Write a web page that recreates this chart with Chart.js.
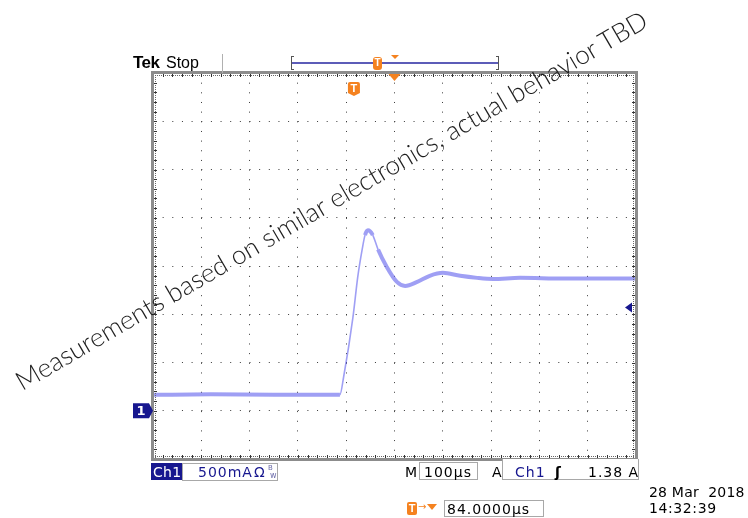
<!DOCTYPE html>
<html>
<head>
<meta charset="utf-8">
<script src="https://cdn.jsdelivr.net/npm/chart.js@4.4.1/dist/chart.umd.min.js"></script>
<style>
  body { margin: 0; background: #fff; }
  #wrap { position: relative; width: 748px; height: 518px; overflow: hidden; }
  #scope { position: absolute; left: 0; top: 0; }
  .t { position: absolute; white-space: nowrap; line-height: 1; font-family: "DejaVu Sans", sans-serif; font-size: 14px; letter-spacing: 1px; color: #000; }
  .box { position: absolute; border: 1px solid #a8a8a8; box-sizing: border-box; background: #fff; }
  .blue { color: #17178f; }
  .orange { background: #f5821f; color: #fff; border-radius: 2px; font-family: "Liberation Sans", sans-serif; font-weight: bold; text-align: center; line-height: 1; position: absolute; }
  #watermark { position: absolute; white-space: nowrap; font-family: "Lato", "Noto Sans", sans-serif; font-weight: 300; color: #1e1e1e; line-height: 1; transform-origin: 50% 50%; }
</style>
</head>
<body>
<div id="wrap">
  <canvas id="scope" width="748" height="518"></canvas>

  <!-- header -->
  <div class="t" style="left:133px; top:53.5px; font-family:'Liberation Sans',sans-serif; font-weight:bold; font-size:17px; letter-spacing:-0.5px;">Tek</div>
  <div class="t" style="left:166px; top:54.5px; font-family:'Liberation Sans',sans-serif; font-size:16px; letter-spacing:0;">Stop</div>
  <div style="position:absolute; left:222px; top:54px; width:1px; height:19px; background:#b0b0b0;"></div>
  <div style="position:absolute; left:291px; top:56px; width:3px; height:14px; border:1px solid #555; border-right:none; box-sizing:border-box;"></div>
  <div style="position:absolute; left:496px; top:56px; width:3px; height:14px; border:1px solid #555; border-left:none; box-sizing:border-box;"></div>
  <div style="position:absolute; left:292px; top:62px; width:206px; height:2px; background:#5c5cb8;"></div>
  <div class="orange" style="left:373px; top:57px; width:9px; height:13px; font-size:10px; padding-top:1px; box-sizing:border-box; border-radius:3px;">T</div>
  <div style="position:absolute; left:391px; top:55px; width:0; height:0; border-left:4px solid transparent; border-right:4px solid transparent; border-top:4px solid #f5821f;"></div>

  <!-- bottom status line -->
  <div style="position:absolute; left:151px; top:463px; width:31px; height:17px; background:#17178f;"></div>
  <div class="t" style="left:153px; top:465px; color:#fff; letter-spacing:0.3px;">Ch1</div>
  <div class="box" style="left:182px; top:463px; width:96px; height:18px;"></div>
  <div class="t blue" style="left:198px; top:465px;">500mA</div>
  <div class="t blue" style="left:254px; top:465px; letter-spacing:0;">Ω</div>
  <div class="t" style="left:268px; top:465px; font-size:7px; color:#6a6aa8; letter-spacing:0;">B</div>
  <div class="t" style="left:270px; top:472px; font-size:8px; color:#6a6aa8; letter-spacing:0;">w</div>

  <div class="t" style="left:405px; top:465px; letter-spacing:0;">M</div>
  <div class="box" style="left:419px; top:462px; width:59px; height:18px;"></div>
  <div class="t" style="left:424px; top:465px;">100µs</div>
  <div class="t" style="left:492px; top:465px; letter-spacing:0;">A</div>
  <div class="box" style="left:502px; top:459px; width:137px; height:21px; border-top:none;"></div>
  <div class="t blue" style="left:515px; top:465px;">Ch1</div>
  <div class="t" style="left:555px; top:465px; font-weight:bold; letter-spacing:0;">ʃ</div>
  <div class="t" style="left:588px; top:465px;">1.38 A</div>

  <div class="orange" style="left:407px; top:502px; width:10px; height:13px; font-size:11px; padding-top:1px; box-sizing:border-box;">T</div>
  <div class="t" style="left:418px; top:502px; font-size:10px; color:#f5821f; letter-spacing:0;">→</div>
  <div style="position:absolute; left:427px; top:504px; width:0; height:0; border-left:5px solid transparent; border-right:5px solid transparent; border-top:6px solid #f5821f;"></div>
  <div class="box" style="left:444px; top:500px; width:100px; height:17px;"></div>
  <div class="t" style="left:447px; top:502px;">84.0000µs</div>

  <div class="t" style="left:649px; top:485px; letter-spacing:0.2px;">28 Mar&nbsp; 2018</div>
  <div class="t" style="left:649px; top:501px; letter-spacing:0.6px;">14:32:39</div>

  <div id="watermark">Measurements based on similar electronics, actual behavior TBD</div>
</div>

<script>
// Ch1 current trace (time in µs across the 10 divisions, current in A)
const timeUs   = [0, 120, 250, 387, 395, 414, 424, 433, 439, 445, 455, 466, 484, 505, 522, 547, 573, 600, 636, 671, 704, 760, 850, 1000];
const currentA = [0.165, 0.17, 0.165, 0.166, 0.36, 0.97, 1.39, 1.67, 1.82, 1.87, 1.82, 1.67, 1.49, 1.335, 1.294, 1.335, 1.398, 1.429, 1.398, 1.377, 1.366, 1.377, 1.37, 1.37];

// screen: 10 divisions of 100µs, 8 divisions of 500mA
const xMin = 0, xMax = 1000, xStep = 100;
const yMin = -0.5, yMax = 3.5, yStep = 0.5;
const triggerTimeUs = 500;          // orange triangle at screen centre
const triggerMarkUs = 416;          // "T" marker (84µs before centre)
const triggerLevelA = 1.07;         // blue level arrow on the right edge
const groundA = 0;                  // Ch1 ground marker

const ORANGE = '#f5821f';
const NAVY = '#17178f';

function isSteep(c) {
    return Math.abs(c.p1.y - c.p0.y) > 2 * Math.abs(c.p1.x - c.p0.x);
}

function tMarker(ctx, cx, top, w, h) {
    ctx.fillStyle = ORANGE;
    ctx.beginPath();
    ctx.moveTo(cx - w / 2 + 2, top);
    ctx.lineTo(cx + w / 2 - 2, top);
    ctx.quadraticCurveTo(cx + w / 2, top, cx + w / 2, top + 2);
    ctx.lineTo(cx + w / 2, top + h - 3);
    ctx.lineTo(cx, top + h);
    ctx.lineTo(cx - w / 2, top + h - 3);
    ctx.lineTo(cx - w / 2, top + 2);
    ctx.quadraticCurveTo(cx - w / 2, top, cx - w / 2 + 2, top);
    ctx.fill();
    ctx.fillStyle = '#fff';
    ctx.font = 'bold 11px "Liberation Sans", sans-serif';
    ctx.textAlign = 'center';
    ctx.textBaseline = 'middle';
    ctx.fillText('T', cx, top + h / 2 - 0.5);
}

const scopeFrame = {
    id: 'scopeFrame',
    afterDatasetsDraw(chart) {
        const { ctx, chartArea: a, scales: { x, y } } = chart;
        const minorX = (x.getPixelForValue(xStep) - x.getPixelForValue(0)) / 5;
        const minorY = (y.getPixelForValue(0) - y.getPixelForValue(yStep)) / 5;
        ctx.save();

        // fine dotted ruler just inside the frame
        ctx.strokeStyle = '#666';
        ctx.lineWidth = 1;
        ctx.setLineDash([1, 1]);
        ctx.beginPath();
        ctx.moveTo(a.left, a.top + 2.5); ctx.lineTo(a.right, a.top + 2.5);
        ctx.moveTo(a.left, a.bottom - 2.5); ctx.lineTo(a.right, a.bottom - 2.5);
        ctx.moveTo(a.left + 2.5, a.top); ctx.lineTo(a.left + 2.5, a.bottom);
        ctx.moveTo(a.right - 2.5, a.top); ctx.lineTo(a.right - 2.5, a.bottom);
        ctx.stroke();
        ctx.setLineDash([]);

        // minor ticks on the frame
        ctx.strokeStyle = '#333';
        ctx.beginPath();
        for (let i = 0; i <= 50; i++) {
            const px = Math.round(a.left + i * minorX) + 0.5;
            ctx.moveTo(px, a.top); ctx.lineTo(px, a.top + 4);
            ctx.moveTo(px, a.bottom); ctx.lineTo(px, a.bottom - 4);
        }
        for (let i = 0; i <= 40; i++) {
            const py = Math.round(a.top + i * minorY) + 0.5;
            ctx.moveTo(a.left, py); ctx.lineTo(a.left + 4, py);
            ctx.moveTo(a.right, py); ctx.lineTo(a.right - 4, py);
        }
        ctx.stroke();

        // frame
        ctx.strokeStyle = '#8c8c8c';
        ctx.lineWidth = 3;
        ctx.strokeRect(a.left - 0.5, a.top - 0.5, a.right - a.left + 1, a.bottom - a.top + 1);

        // trigger position triangle
        const cx = x.getPixelForValue(triggerTimeUs);
        ctx.fillStyle = ORANGE;
        ctx.beginPath();
        ctx.moveTo(cx - 6, a.top + 1);
        ctx.lineTo(cx + 6, a.top + 1);
        ctx.lineTo(cx, a.top + 8);
        ctx.closePath();
        ctx.fill();

        // trigger "T" marker
        tMarker(ctx, x.getPixelForValue(triggerMarkUs), a.top + 9, 12, 14);

        // Ch1 ground marker
        const gy = y.getPixelForValue(groundA);
        ctx.fillStyle = NAVY;
        ctx.beginPath();
        ctx.moveTo(a.left - 20, gy - 7.5);
        ctx.lineTo(a.left - 4, gy - 7.5);
        ctx.lineTo(a.left, gy);
        ctx.lineTo(a.left - 4, gy + 7.5);
        ctx.lineTo(a.left - 20, gy + 7.5);
        ctx.closePath();
        ctx.fill();
        ctx.fillStyle = '#fff';
        ctx.font = 'bold 13px "DejaVu Sans", sans-serif';
        ctx.textAlign = 'center';
        ctx.textBaseline = 'middle';
        ctx.fillText('1', a.left - 12, gy + 0.5);

        // trigger level arrow
        const ly = y.getPixelForValue(triggerLevelA);
        ctx.fillStyle = NAVY;
        ctx.beginPath();
        ctx.moveTo(a.right - 11, ly);
        ctx.lineTo(a.right - 4, ly - 5);
        ctx.lineTo(a.right - 4, ly + 5);
        ctx.closePath();
        ctx.fill();

        ctx.restore();
    }
};

const ctx = document.getElementById('scope').getContext('2d');
new Chart(ctx, {
    type: 'line',
    data: {
        datasets: [{
            data: timeUs.map((t, i) => ({ x: t, y: currentA[i] })),
            borderColor: 'rgba(100, 100, 238, 0.62)',
            borderWidth: 4,
            pointRadius: 0,
            cubicInterpolationMode: 'monotone',
            fill: false,
            segment: {
                borderWidth: c => isSteep(c) ? 1.6 : 4
            }
        }]
    },
    options: {
        responsive: false,
        animation: false,
        events: [],
        layout: { padding: { left: 153, top: 73, right: 112, bottom: 59 } },
        scales: {
            x: {
                type: 'linear',
                min: xMin,
                max: xMax,
                ticks: { display: false, stepSize: xStep },
                grid: { color: '#3a3a3a', lineWidth: 1, drawTicks: false },
                border: { display: false, dash: [1, 8.66] }
            },
            y: {
                type: 'linear',
                min: yMin,
                max: yMax,
                ticks: { display: false, stepSize: yStep },
                grid: { color: '#3a3a3a', lineWidth: 1, drawTicks: false },
                border: { display: false, dash: [1, 8.65] }
            }
        },
        plugins: {
            legend: { display: false },
            tooltip: { enabled: false }
        }
    },
    plugins: [scopeFrame]
});

// rotated note across the screen, sized to span the same length as in the photo
(function placeWatermark() {
    const el = document.getElementById('watermark');
    const m = document.createElement('canvas').getContext('2d');
    m.font = '300 24px "Lato", "Noto Sans", sans-serif';
    const w = m.measureText(el.textContent).width;
    const size = 24 * 728 / w;
    el.style.fontSize = size.toFixed(2) + 'px';
    el.style.left = '331px';
    el.style.top = '200px';
    el.style.transform = 'translate(-50%, -50%) rotate(-30.2deg)';
})();
</script>
</body>
</html>
